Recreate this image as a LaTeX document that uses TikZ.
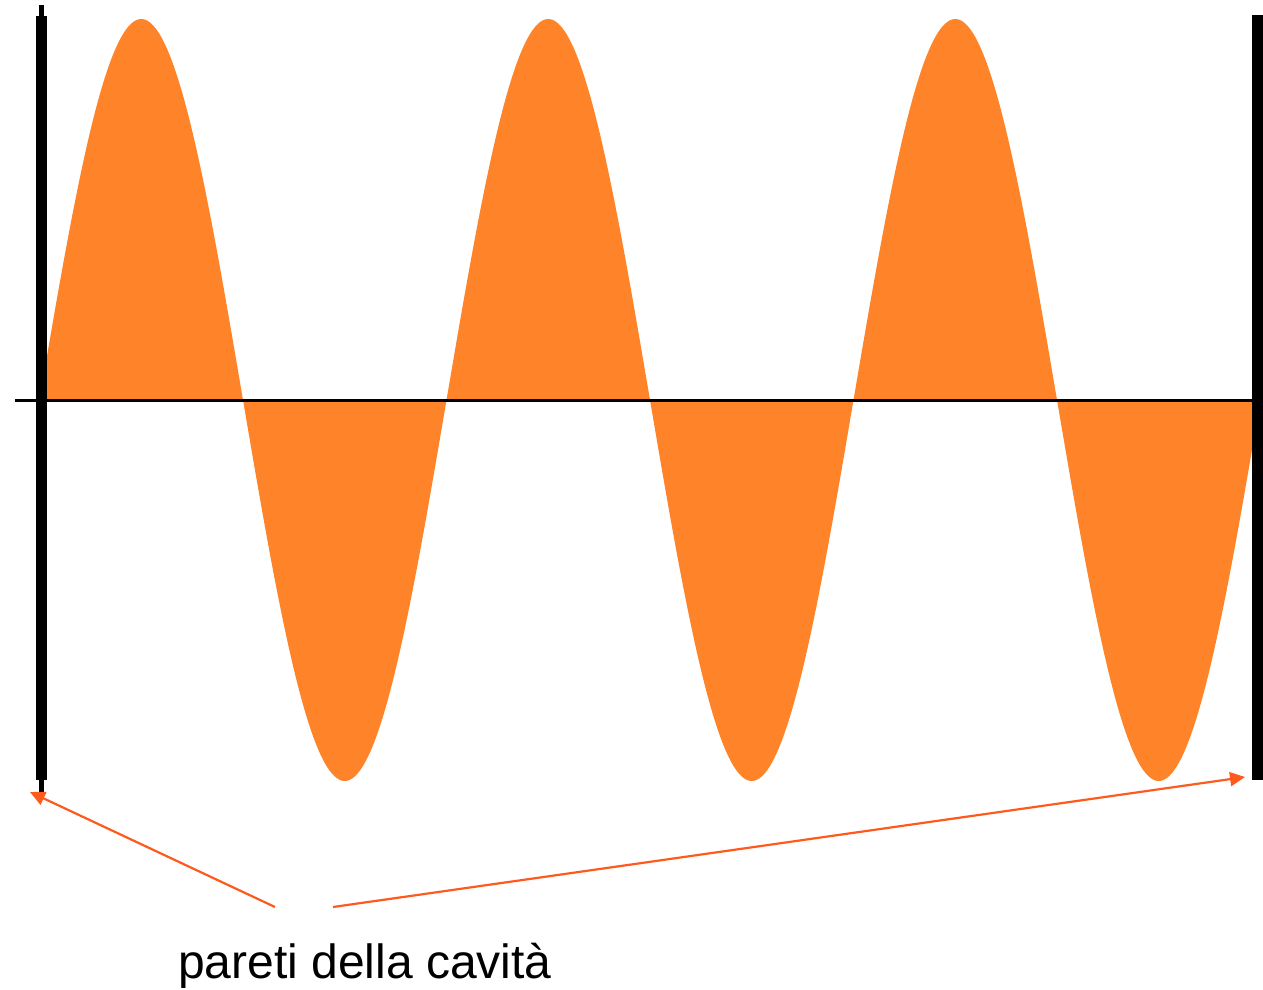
\documentclass[tikz,border=0pt]{standalone}
\usepackage{fontspec}
\setmainfont{Liberation Sans}
\usetikzlibrary{arrows.meta}
\definecolor{waveorange}{RGB}{255,131,40}
\definecolor{arrowred}{RGB}{255,90,30}
\tikzset{
  wall/.style={fill=black},
  axisline/.style={draw=black,line width=3pt},
  pointer/.style={draw=arrowred,line width=2.2pt,-{Triangle[length=15pt,width=14pt]}},
  caption/.style={font=\fontsize{48}{50}\selectfont,inner sep=0pt,anchor=base west}
}
\begin{document}
\begin{tikzpicture}[x=1pt,y=-1pt]
\useasboundingbox (0,0) rectangle (1263,989);
% standing wave
\fill[waveorange] (47,400) -- plot[domain=47:1252,samples=500,smooth] (\x,{400-381*sin(((\x-39.5)/203.5)*180)}) -- (1252,400) -- cycle;
% axis
\draw[axisline] (15,400) -- (1253,400);
% walls
\fill[wall] (36,16) rectangle (47,780);
\fill[wall] (39,5) rectangle (44,792);
\fill[wall] (1252,15) rectangle (1263,780);
\coordinate (lwall) at (30,792);
\coordinate (rwall) at (1245,777);
% caption
\node[caption] (cap) at (178,978) {pareti della cavità};
\coordinate (ls) at (275,907);
\coordinate (rs) at (333,907);
\draw[pointer] (ls) -- (lwall);
\draw[pointer] (rs) -- (rwall);
\end{tikzpicture}
\end{document}
